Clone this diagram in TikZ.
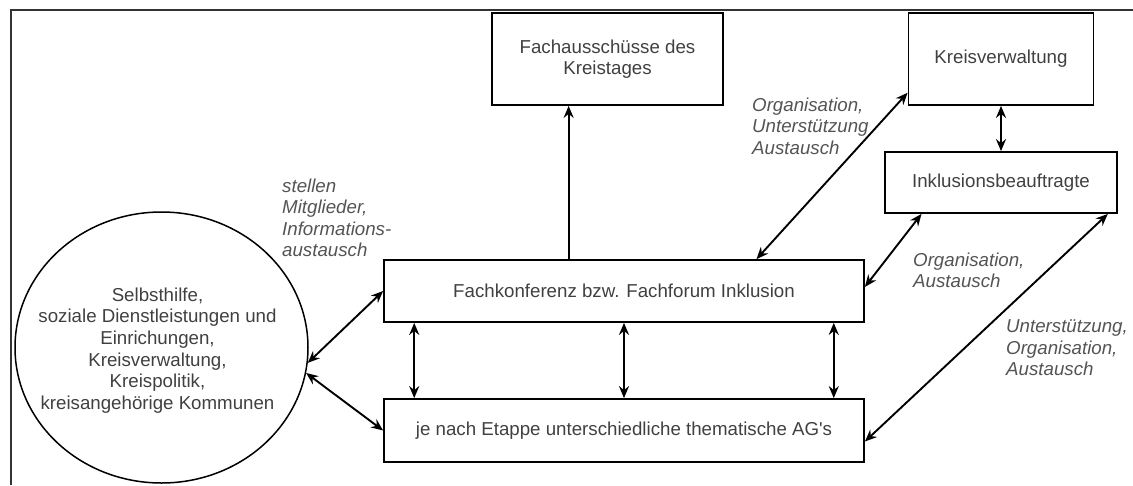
\documentclass[tikz,border=0pt]{standalone}
\usepackage{fontspec}
\setmainfont{Liberation Sans}
\usetikzlibrary{arrows.meta,calc,shapes.geometric}
\definecolor{txt}{gray}{0.25}
\definecolor{lbl}{gray}{0.33}
\begin{document}
\begin{tikzpicture}[x=1pt,y=-1pt,
  every node/.style={font=\fontsize{18.7}{21.6}\selectfont},
  box/.style={draw=black,line width=1.8pt,text=txt,align=center,inner sep=2pt},
  circ/.style={ellipse,draw=black,line width=1.5pt,inner sep=0pt},
  ctext/.style={text=txt,align=center,inner sep=0pt},
  lab/.style={text=lbl,align=left,anchor=west,inner sep=0pt,font=\fontsize{18.7}{21.4}\selectfont\itshape},
  conn/.style={line width=1.9pt,{Stealth[length=12pt,width=10pt,inset=4pt]}-{Stealth[length=12pt,width=10pt,inset=4pt]}},
  oneway/.style={line width=1.9pt,-{Stealth[length=12pt,width=10pt,inset=4pt]}},
  frame/.style={draw=black!80,line width=1.8pt}]
\useasboundingbox (0,0) rectangle (1133,485);
% partial frame
\coordinate (ftl) at (11,10);
\coordinate (ftr) at (1133,10);
\coordinate (fbl) at (11,485);
\draw[frame] (fbl) -- (ftl) -- (ftr);
% nodes
\node[box,minimum width=231pt,minimum height=92pt] (fa) at (607.5,59) {Fachausschüsse des\\Kreistages};
\node[box,minimum width=185pt,minimum height=92pt] (kv) at (1001,59) {Kreisverwaltung};
\node[box,minimum width=232pt,minimum height=61pt] (ib) at (1001,182.5) {Inklusionsbeauftragte};
\node[box,minimum width=480pt,minimum height=62pt] (fk) at (624,291) {Fachkonferenz bzw. Fachforum Inklusion};
\node[box,minimum width=480pt,minimum height=63pt] (ag) at (624,430.5) {je nach Etappe unterschiedliche thematische AG\textquotesingle s};
\node[circ,minimum width=293pt,minimum height=271pt] (ci) at (161.5,347.5) {};
\node[ctext] (citext) at ($(ci.center)+(-4,3)$) {Selbsthilfe,\\soziale Dienstleistungen und\\Einrichungen,\\Kreisverwaltung,\\Kreispolitik,\\kreisangehörige Kommunen};
% labels
\node[lab] (l1) at (282,218) {stellen\\Mitglieder,\\Informations-\\austausch};
\node[lab] (l2) at (752,126) {Organisation,\\Unterstützung\\Austausch};
\node[lab] (l3) at (913,270.5) {Organisation,\\Austausch};
\node[lab] (l4) at (1006,348) {Unterstützung,\\Organisation,\\Austausch};
% connectors
\coordinate (fa1) at ($(fa.south west)!0.333!(fa.south east)$);
\draw[oneway] (fa1 |- fk.north) -- (fa1);
\draw[conn] (kv.south) -- (ib.north);
\draw[conn] (ci.-6) -- (fk.west);
\draw[conn] (ci.-10) -- (ag.west);
\coordinate (v1) at ($(fk.south west)!0.0646!(fk.south east)$);
\coordinate (v3) at ($(fk.south west)!0.9354!(fk.south east)$);
\draw[conn] (v1) -- (v1 |- ag.north);
\draw[conn] (fk.south) -- (ag.north);
\draw[conn] (v3) -- (v3 |- ag.north);
\draw[conn] ($(fk.north west)!0.775!(fk.north east)$) -- ($(kv.north west)!0.86!(kv.south west)$);
\draw[conn] ($(fk.north east)!0.435!(fk.south east)$) -- ($(ib.south west)!0.16!(ib.south east)$);
\draw[conn] ($(ag.north east)!0.67!(ag.south east)$) -- ($(ib.south west)!0.957!(ib.south east)$);
\end{tikzpicture}
\end{document}
